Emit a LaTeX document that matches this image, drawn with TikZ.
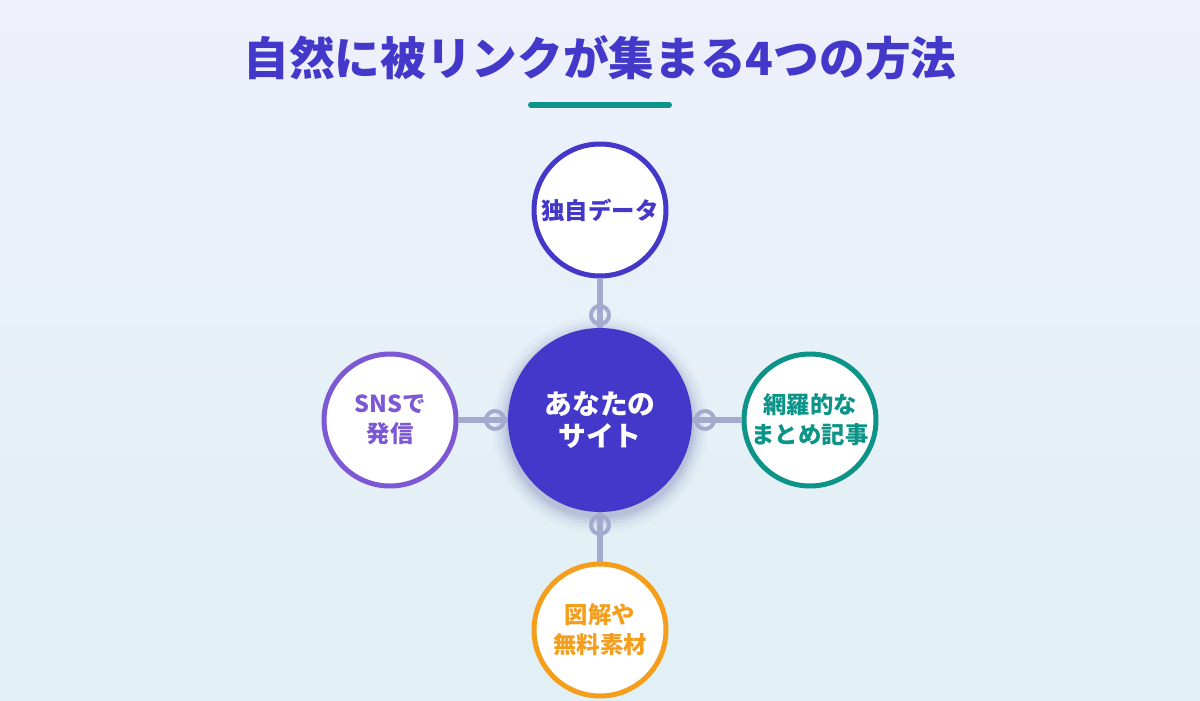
\documentclass[tikz,border=0pt]{standalone}
\usepackage{fontspec}
\setmainfont{Noto Sans CJK JP}
\usepackage{tikz}
\usetikzlibrary{positioning, calc}
\definecolor{myindigo}{RGB}{67,56,202}
\definecolor{mypurple}{RGB}{124,88,212}
\definecolor{myteal}{RGB}{13,148,136}
\definecolor{myorange}{RGB}{245,158,27}
\definecolor{mylink}{RGB}{163,170,206}
\definecolor{bgtop}{RGB}{238,240,251}
\definecolor{bgbot}{RGB}{224,240,244}
\tikzset{
  spoke/.style={circle, draw=#1, fill=white, line width=0.1cm,
    minimum size=2.64cm, inner sep=0pt, align=center, text=#1,
    font=\fontsize{13.3}{17.2}\selectfont\bfseries},
  hub/.style={circle, fill=myindigo, minimum size=3.68cm, inner sep=0pt,
    align=center, text=white, font=\fontsize{15.8}{18.7}\selectfont\bfseries},
  link/.style={line width=0.12cm, color=mylink},
  joint/.style={circle, draw=mylink, line width=0.08cm, minimum size=0.36cm,
    inner sep=0pt}
}

\begin{document}
\begin{tikzpicture}[x=0.02cm, y=-0.02cm]

%--- BACKGROUND ---
\shade[top color=bgtop, bottom color=bgbot] (0,0) rectangle (1200,700);
\useasboundingbox (0,0) rectangle (1200,700);

%--- TITLE ---
\node[font=\fontsize{26}{30}\selectfont\bfseries, text=myindigo] (title) at (600,58) {自然に被リンクが集まる4つの方法};
\draw[line width=0.12cm, line cap=round, color=myteal] (531,105) -- (669,105);

%--- HUB ---
% soft shadow
\foreach \r/\o in {108/0.02, 104/0.03, 100/0.04, 97/0.05, 94/0.06} {
  \fill[black!60!blue, opacity=\o] (600,425) circle (\r*0.02cm);
}
\node[hub] (site) at (600,420) {あなたの\\サイト};

%--- SPOKES ---
\node[spoke=myindigo] (data) at (600,210) {独自データ};
\node[spoke=mypurple] (sns) at (390,420) {SNSで\\発信};
\node[spoke=myteal] (matome) at (810,420) {網羅的な\\まとめ記事};
\node[spoke=myorange] (zukai) at (600,630) {図解や\\無料素材};

% connectors
\foreach \n in {data,sns,matome,zukai} { \draw[link] (\n) -- (site); }
\node[joint] (j1) at (600,315) {};
\node[joint] (j2) at (495,420) {};
\node[joint] (j3) at (705,420) {};
\node[joint] (j4) at (600,525) {};

\end{tikzpicture}
\end{document}
